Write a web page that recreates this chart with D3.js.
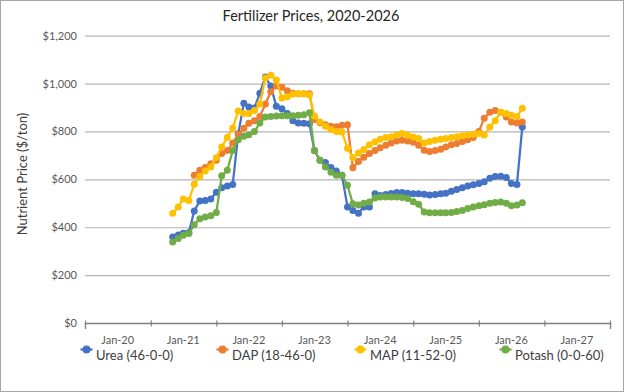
<!DOCTYPE html>
<html>
<head>
<meta charset="utf-8">
<script src="https://cdn.jsdelivr.net/npm/d3@7"></script>
<style>
  body { margin: 0; background: #fff; }
  text { font-family: Lato, "Noto Sans", sans-serif; }
</style>
</head>
<body>
<div id="chart"></div>
<script>
// monthly prices, Jan 2021 - May 2026 ($/ton)
var yearLabels = ["Jan-20", "Jan-21", "Jan-22", "Jan-23", "Jan-24", "Jan-25", "Jan-26", "Jan-27"]
var seriesNames = ["Urea (46-0-0)", "DAP (18-46-0)", "MAP (11-52-0)", "Potash (0-0-60)"]
var seriesColors = ["#4472C4", "#ED7D31", "#FFC000", "#70AD47"]

var urea = [359, 368, 375, 378, 468, 510, 512, 518, 546, 565, 572, 578, 790, 918, 902, 898,
    960, 1028, 990, 905, 895, 875, 845, 835, 834, 832, 720, 680, 670, 650, 635, 617,
    485, 470, 458, 485, 485, 540, 533, 537, 541, 545, 545, 542, 540, 540, 538, 535,
    537, 540, 542, 550, 558, 565, 572, 577, 583, 590, 605, 612, 613, 608, 583, 579, 819]

var dap = [null, null, null, null, 617, 638, 650, 665, 680, 708, 720, 752, 788, 813, 834, 845,
    862, 915, 966, 990, 985, 970, 960, 958, 958, 958, 850, 836, 828, 822, 820, 826,
    828, 648, 675, 692, 708, 720, 732, 742, 752, 760, 763, 760, 755, 742, 722, 716,
    720, 726, 735, 745, 750, 758, 765, 775, 800, 855, 880, 888, 880, 860, 840, 835, 840]

var map = [458, 485, 518, 512, 580, 612, 635, 652, 690, 735, 775, 815, 885, 875, 875, 888,
    915, 1023, 1035, 1015, 940, 945, 955, 958, 958, 952, 865, 840, 822, 808, 800, 798,
    730, 690, 710, 725, 745, 757, 768, 775, 778, 785, 792, 784, 777, 771, 752, 758,
    763, 767, 771, 775, 778, 782, 785, 788, 792, 785, 819, 845, 880, 875, 868, 861, 897]

var potash = [338, 353, 366, 374, 410, 435, 443, 448, 462, 615, 638, 720, 765, 780, 786, 800,
    835, 860, 862, 865, 866, 866, 866, 868, 870, 878, 720, 680, 652, 630, 617, 617,
    575, 498, 493, 500, 505, 522, 526, 526, 526, 526, 524, 520, 506, 496, 464, 460,
    460, 460, 460, 462, 466, 470, 478, 485, 490, 494, 500, 503, 505, 500, 490, 493, 502]

var months = d3.timeMonth.range(new Date(2021, 0, 1), new Date(2026, 5, 1))
var allSeries = [urea, dap, map, potash]

const W = 624, H = 392
const margin = { top: 36, right: 14, bottom: 70, left: 85 }

const x = d3.scaleTime()
    .domain([new Date(2019, 8, 1), new Date(2027, 8, 1)])
    .range([margin.left, 610])
const y = d3.scaleLinear()
    .domain([0, 1200])
    .range([323, 35.7])

var svg = d3.select("#chart")
    .append("svg")
    .attr("width", W)
    .attr("height", H)

// outer chart border
svg.append("rect")
    .attr("x", 0.5).attr("y", 0.5)
    .attr("width", W - 1).attr("height", H - 1)
    .attr("fill", "#fff")
    .attr("stroke", "#a6a6a6")

svg.append("text")
    .attr("x", 311).attr("y", 21)
    .attr("text-anchor", "middle")
    .attr("font-size", 14.5)
    .attr("fill", "#262626")
    .text("Fertilizer Prices, 2020-2026")

// y axis + gridlines
var yAxis = svg.append("g")
    .attr("transform", `translate(${margin.left},0)`)
    .call(d3.axisLeft(y)
        .tickValues(d3.range(0, 1201, 200))
        .tickSize(-(610 - margin.left))
        .tickPadding(8)
        .tickFormat(d3.format("$,")))
yAxis.select(".domain").remove()
yAxis.selectAll(".tick line").attr("stroke", "#b3b3b3").attr("stroke-width", 1.2)
yAxis.selectAll(".tick text").attr("font-size", 11).attr("fill", "#595959")

svg.append("text")
    .attr("transform", "translate(27,174) rotate(-90)")
    .attr("text-anchor", "middle")
    .attr("font-size", 13)
    .attr("fill", "#404040")
    .text("Nutrient Price ($/ton)")

// x axis: ticks between years, labels centred
var xAxis = svg.append("g")
    .attr("transform", `translate(0,${y(0)})`)
    .call(d3.axisBottom(x)
        .tickValues(d3.range(2019, 2028).map(yr => new Date(yr, 8, 1)))
        .tickSize(6)
        .tickFormat(""))
xAxis.select(".domain").attr("stroke", "#808080").attr("stroke-width", 1.3)
xAxis.selectAll(".tick line").attr("stroke", "#808080").attr("stroke-width", 1.2)
    .attr("transform", "translate(0,-2.5)")

svg.append("g")
    .selectAll("text")
    .data(yearLabels)
    .enter().append("text")
    .attr("x", (d, i) => x(new Date(2020 + i, 2, 1)))
    .attr("y", 343.5)
    .attr("text-anchor", "middle")
    .attr("font-size", 11)
    .attr("fill", "#595959")
    .text(d => d)

const line = d3.line()
    .defined(d => d != null)
    .x((d, i) => x(months[i]))
    .y(d => y(d))

allSeries.forEach(function (s, k) {
    svg.append("path")
        .datum(s)
        .attr("fill", "none")
        .attr("stroke", seriesColors[k])
        .attr("stroke-width", 2.25)
        .attr("d", line)

    svg.append("g")
        .selectAll("circle")
        .data(s.map((v, i) => ({ v: v, date: months[i] })).filter(d => d.v != null))
        .enter().append("circle")
        .attr("cx", d => x(d.date))
        .attr("cy", d => y(d.v))
        .attr("r", 3.5)
        .attr("fill", seriesColors[k])
})

// legend
var legendX = [86.5, 222.5, 360.5, 505.5]
var legend = svg.append("g")
    .selectAll("g")
    .data(seriesNames)
    .enter().append("g")
    .attr("transform", (d, i) => `translate(${legendX[i]},349.5)`)
legend.append("line")
    .attr("x1", -6).attr("x2", 6)
    .attr("stroke", (d, i) => seriesColors[i])
    .attr("stroke-width", 2.25)
legend.append("circle")
    .attr("r", 4)
    .attr("fill", (d, i) => seriesColors[i])
legend.append("text")
    .attr("x", 9.5).attr("y", 10.5)
    .attr("font-size", 13)
    .attr("fill", "#404040")
    .text(d => d)
</script>
</body>
</html>
